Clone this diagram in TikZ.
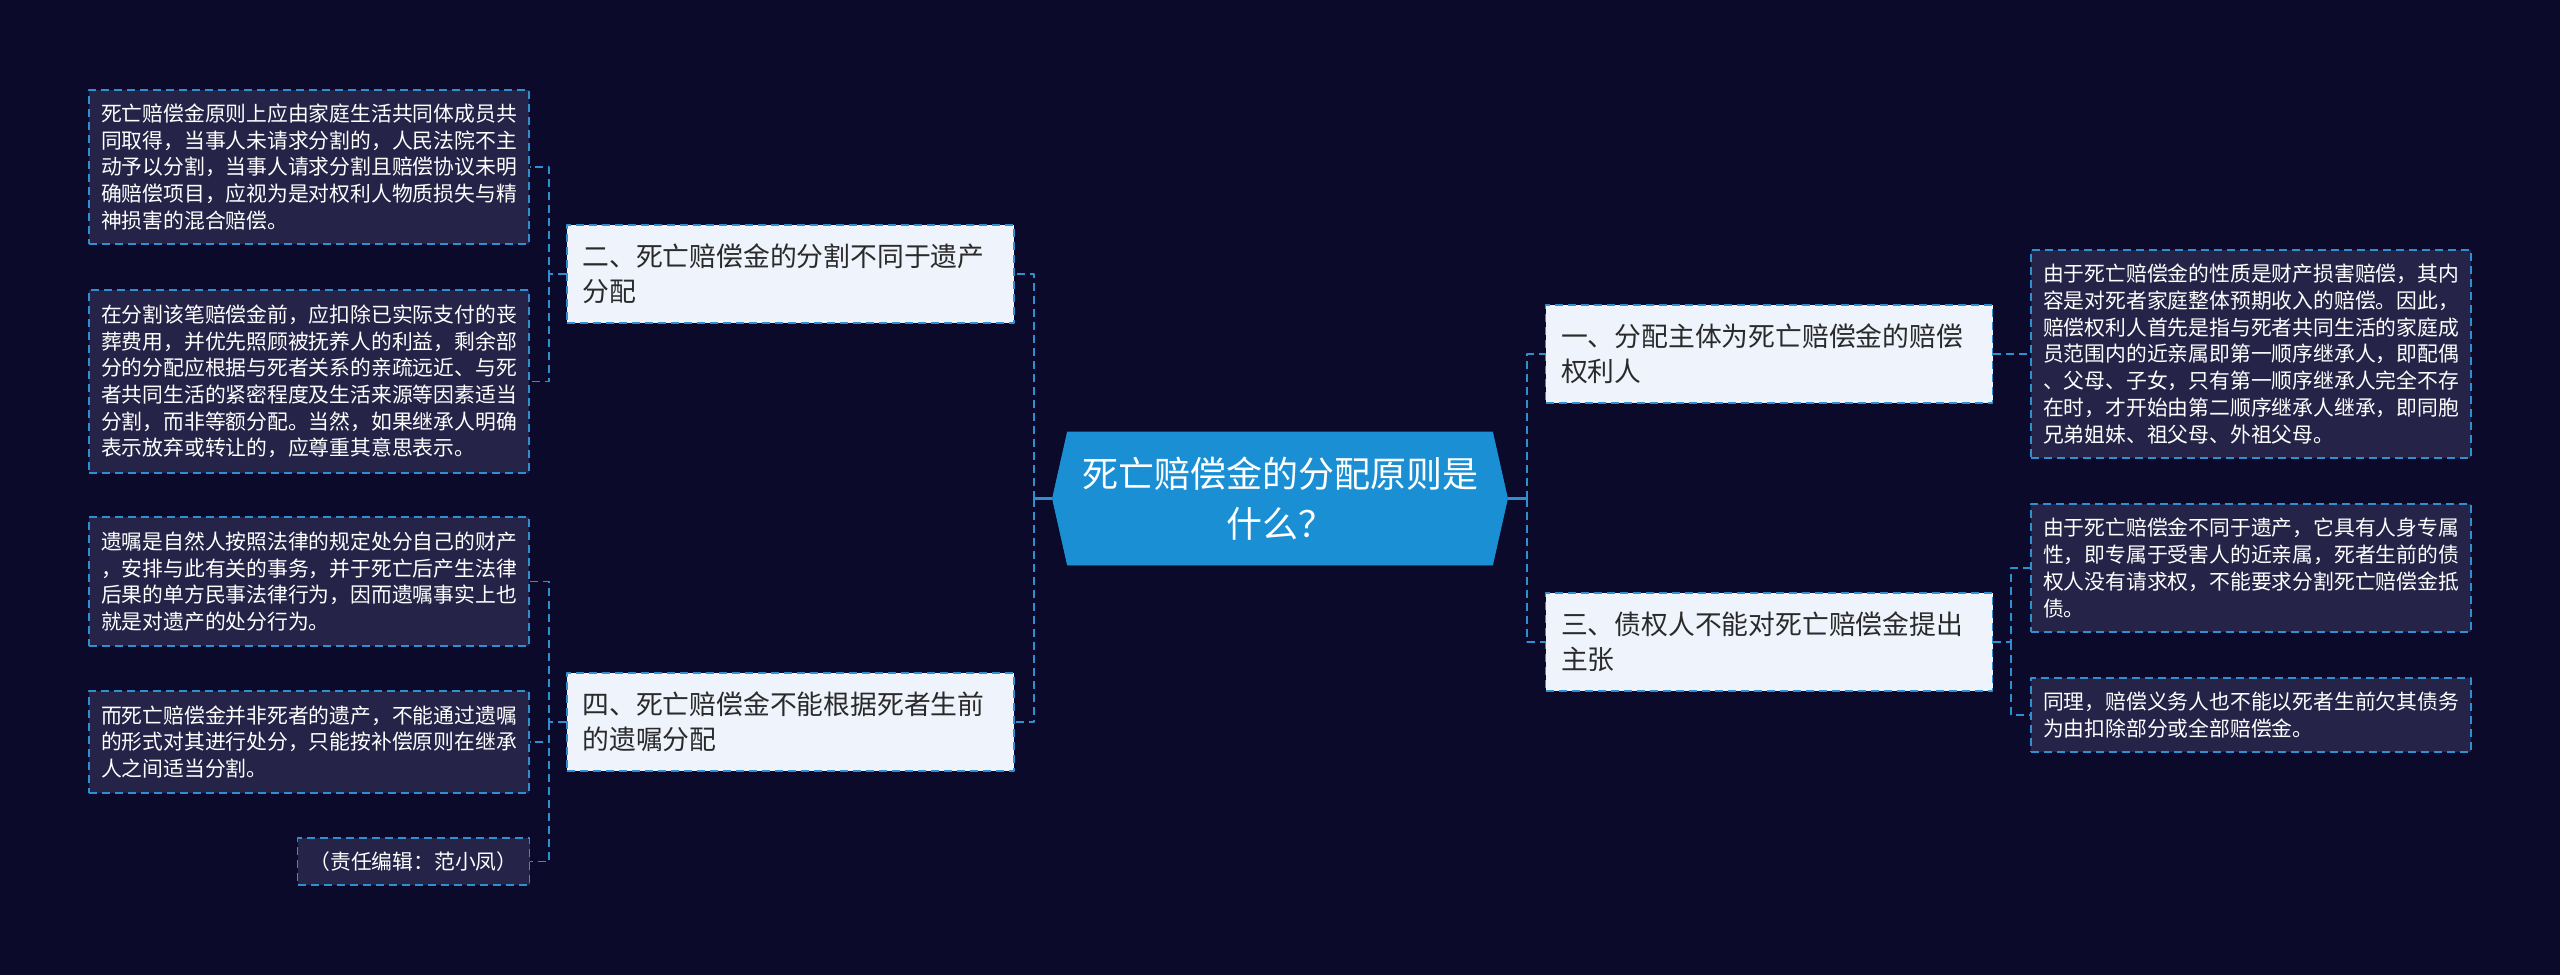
\documentclass[tikz,border=0pt]{standalone}
\usepackage{fontspec}
\newfontfamily\cjk{Noto Sans CJK SC}
\usetikzlibrary{shapes.symbols}
\definecolor{bgc}{HTML}{0B0A2B}
\definecolor{linec}{HTML}{2F8FD0}
\definecolor{leafc}{HTML}{252347}
\definecolor{branchc}{HTML}{EEF3FC}
\definecolor{rootc}{HTML}{1B8FD4}
\definecolor{textc}{HTML}{2A2A2A}
\tikzset{
  leaf/.style={draw=linec, dash pattern=on 4pt off 2.5pt, line width=0.9pt, fill=leafc, text=white,
    align=left, text width=208pt, inner xsep=6pt, inner ysep=0pt, minimum width=220pt,
    font=\cjk\fontsize{10.4}{13.35}\selectfont},
  branch/.style={draw=linec, dash pattern=on 4pt off 2.5pt, line width=0.9pt, fill=branchc, text=textc,
    align=left, text width=208pt, inner xsep=7.75pt, inner ysep=0pt, minimum width=223.5pt, minimum height=49pt,
    font=\cjk\fontsize{13.4}{17.5}\selectfont},
  link/.style={draw=linec, dash pattern=on 4pt off 2.5pt, line width=0.9pt},
  stem/.style={draw=linec, line width=1.2pt}
}
\begin{document}
\begin{tikzpicture}[x=0.5pt, y=-0.5pt, line join=round]
\fill[bgc] (0,0) rectangle (2560,975);
\node[signal, signal to=east and west, signal pointer angle=154.6, fill=rootc, draw=rootc, text=white,
  minimum width=227.5pt, minimum height=66.5pt, inner sep=0pt, align=center,
  font=\cjk\fontsize{18}{25}\selectfont] (root) at (1280,498.5) {死亡赔偿金的分配原则是\\什么？};

\node[branch] (b2) at (790.5,274) {二、死亡赔偿金的分割不同于遗产\\分配};
\node[branch] (b4) at (790.5,722) {四、死亡赔偿金不能根据死者生前\\的遗嘱分配};
\node[branch] (b1) at (1769,354) {一、分配主体为死亡赔偿金的赔偿\\权利人};
\node[branch] (b3) at (1769,642) {三、债权人不能对死亡赔偿金提出\\主张};

\node[leaf, minimum height=77pt] (l1) at (309,167) {死亡赔偿金原则上应由家庭生活共同体成员共\\同取得，当事人未请求分割的，人民法院不主\\动予以分割，当事人请求分割且赔偿协议未明\\确赔偿项目，应视为是对权利人物质损失与精\\神损害的混合赔偿。};
\node[leaf, minimum height=91.5pt] (l2) at (309,381.5) {在分割该笔赔偿金前，应扣除已实际支付的丧\\葬费用，并优先照顾被抚养人的利益，剩余部\\分的分配应根据与死者关系的亲疏远近、与死\\者共同生活的紧密程度及生活来源等因素适当\\分割，而非等额分配。当然，如果继承人明确\\表示放弃或转让的，应尊重其意思表示。};
\node[leaf, minimum height=64.5pt] (l3) at (309,581.5) {遗嘱是自然人按照法律的规定处分自己的财产\\，安排与此有关的事务，并于死亡后产生法律\\后果的单方民事法律行为，因而遗嘱事实上也\\就是对遗产的处分行为。};
\node[leaf, minimum height=51pt] (l4) at (309,742) {而死亡赔偿金并非死者的遗产，不能通过遗嘱\\的形式对其进行处分，只能按补偿原则在继承\\人之间适当分割。};
\node[leaf, minimum height=23.5pt, minimum width=115.5pt, text width=, align=center] (l5) at (413.5,861.5) {（责任编辑：范小凤）};

\node[leaf, minimum height=104pt] (r1) at (2251,354) {由于死亡赔偿金的性质是财产损害赔偿，其内\\容是对死者家庭整体预期收入的赔偿。因此，\\赔偿权利人首先是指与死者共同生活的家庭成\\员范围内的近亲属即第一顺序继承人，即配偶\\、父母、子女，只有第一顺序继承人完全不存\\在时，才开始由第二顺序继承人继承，即同胞\\兄弟姐妹、祖父母、外祖父母。};
\node[leaf, minimum height=64pt] (r2) at (2251,568) {由于死亡赔偿金不同于遗产，它具有人身专属\\性，即专属于受害人的近亲属，死者生前的债\\权人没有请求权，不能要求分割死亡赔偿金抵\\债。};
\node[leaf, minimum height=37pt] (r3) at (2251,715) {同理，赔偿义务人也不能以死者生前欠其债务\\为由扣除部分或全部赔偿金。};

\coordinate (jl) at (1034,498.5);
\coordinate (jr) at (1527,498.5);
\coordinate (j2) at (549,274);
\coordinate (j4) at (549,722);
\coordinate (k3) at (2011,642);

\draw[stem] (root.west) -- (jl);
\draw[stem] (root.east) -- (jr);
\draw[link] (jl) |- (b2.east);
\draw[link] (jl) |- (b4.east);
\draw[link] (jr) |- (b1.west);
\draw[link] (jr) |- (b3.west);
\draw[link] (b2.west) -- (j2) |- (l1.east);
\draw[link] (j2) |- (l2.east);
\draw[link] (b4.west) -- (j4) |- (l3.east);
\draw[link] (j4) |- (l4.east);
\draw[link] (j4) |- (l5.east);
\draw[link] (b1.east) -- (r1.west);
\draw[link] (b3.east) -- (k3) |- (r2.west);
\draw[link] (k3) |- (r3.west);
\end{tikzpicture}
\end{document}
